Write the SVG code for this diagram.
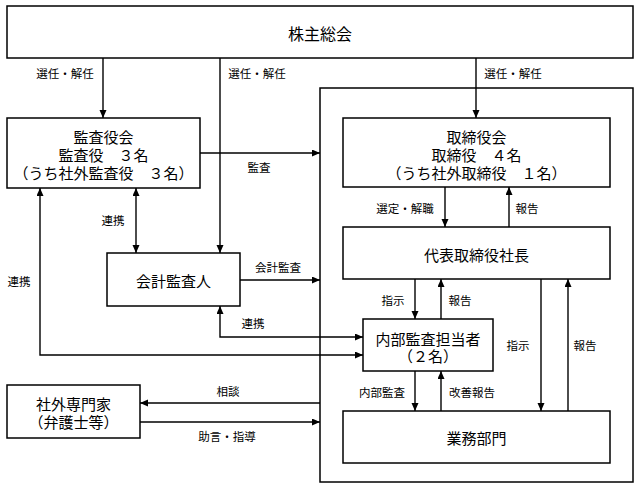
<svg xmlns="http://www.w3.org/2000/svg" width="640" height="489" viewBox="0 0 640 489">
<style>
.box{fill:#fff;stroke:#000;stroke-width:1.5}
.frame{fill:none;stroke:#000;stroke-width:1.5}
.t{font-family:"Noto Sans CJK JP","Noto Sans CJK SC",sans-serif;font-size:15px;fill:#000;text-anchor:middle;dominant-baseline:central}
.big{font-size:16px}
.l{font-family:"Noto Sans CJK JP","Noto Sans CJK SC",sans-serif;font-size:11.5px;fill:#000;text-anchor:middle;dominant-baseline:central}
.c{fill:none;stroke:#000;stroke-width:1.4}
.a{marker-end:url(#ah)}
.d{marker-start:url(#ah);marker-end:url(#ah)}
</style>
<defs>
<marker id="ah" markerUnits="userSpaceOnUse" markerWidth="9" markerHeight="8" refX="8" refY="3.5" orient="auto-start-reverse">
<path d="M0,0 L8,3.5 L0,7 z" fill="#000"/>
</marker>
</defs>
<rect width="640" height="489" fill="#fff"/>
<rect class="frame" x="320" y="88" width="313" height="394"/>
<g id="connectors">
<path class="c a" d="M103,58 V118"/>
<path class="c a" d="M220,58 V253"/>
<path class="c a" d="M476,58 V118"/>
<path class="c a" d="M200,153 H320"/>
<path class="c d" d="M136,188 V253"/>
<path class="c a" d="M240,280 H320"/>
<path class="c d" d="M40,188 V355 H363"/>
<path class="c d" d="M220,306 V337 H363"/>
<path class="c a" d="M445,187 V227"/>
<path class="c a" d="M509,227 V187"/>
<path class="c a" d="M415,279 V319"/>
<path class="c a" d="M441,319 V279"/>
<path class="c a" d="M415,371 V411"/>
<path class="c a" d="M441,411 V371"/>
<path class="c a" d="M541,279 V411"/>
<path class="c a" d="M568,411 V279"/>
<path class="c a" d="M320,403 H140"/>
<path class="c a" d="M140,422 H320"/>
<text class="l" x="65" y="73">選任・解任</text>
<text class="l" x="257" y="73">選任・解任</text>
<text class="l" x="513" y="73">選任・解任</text>
<text class="l" x="259" y="167">監査</text>
<text class="l" x="113" y="220">連携</text>
<text class="l" x="405" y="208">選定・解職</text>
<text class="l" x="527" y="208">報告</text>
<text class="l" x="278" y="267">会計監査</text>
<text class="l" x="19" y="281">連携</text>
<text class="l" x="253" y="323">連携</text>
<text class="l" x="393" y="300">指示</text>
<text class="l" x="460" y="300">報告</text>
<text class="l" x="518" y="345">指示</text>
<text class="l" x="585" y="345">報告</text>
<text class="l" x="382" y="392">内部監査</text>
<text class="l" x="472" y="392">改善報告</text>
<text class="l" x="228" y="391">相談</text>
<text class="l" x="227" y="436">助言・指導</text>
</g>
<g id="shareholders">
<rect class="box" x="7" y="6" width="626" height="52"/>
<text class="t big" x="320" y="33">株主総会</text>
</g>
<g id="auditors">
<rect class="box" x="7" y="118" width="193" height="70"/>
<text class="t" x="103.5" y="136">監査役会</text>
<text class="t" x="103.5" y="154">監査役　３名</text>
<text class="t" x="103.5" y="172">（うち社外監査役　３名）</text>
</g>
<g id="board">
<rect class="box" x="343" y="118" width="267" height="69"/>
<text class="t" x="476.5" y="136">取締役会</text>
<text class="t" x="476.5" y="154">取締役　４名</text>
<text class="t" x="476.5" y="172">（うち社外取締役　１名）</text>
</g>
<g id="president">
<rect class="box" x="343" y="227" width="267" height="52"/>
<text class="t" x="476.5" y="254">代表取締役社長</text>
</g>
<g id="accounting-auditor">
<rect class="box" x="107" y="253" width="133" height="53"/>
<text class="t" x="173.5" y="280">会計監査人</text>
</g>
<g id="internal-audit">
<rect class="box" x="363" y="319" width="130" height="52"/>
<text class="t" x="428" y="338">内部監査担当者</text>
<text class="t" x="428" y="355">（２名）</text>
</g>
<g id="business">
<rect class="box" x="343" y="411" width="267" height="52"/>
<text class="t" x="476.5" y="437">業務部門</text>
</g>
<g id="experts">
<rect class="box" x="7" y="385" width="133" height="53"/>
<text class="t" x="73.5" y="403">社外専門家</text>
<text class="t" x="73.5" y="421">（弁護士等）</text>
</g>
</svg>
